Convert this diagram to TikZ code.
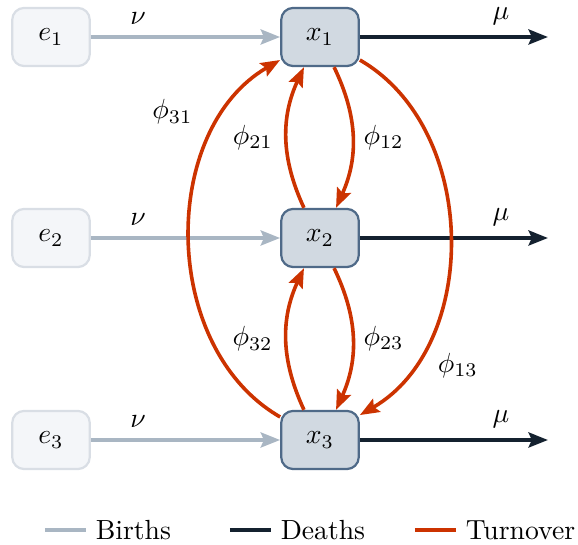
\documentclass[tikz,border=0pt]{standalone}
\usetikzlibrary{arrows.meta}
\definecolor{birthcol}{HTML}{A9B6C3}
\definecolor{deathcol}{HTML}{14212F}
\definecolor{turncol}{HTML}{CC3300}
\definecolor{envfill}{HTML}{F4F6F9}
\definecolor{envline}{HTML}{D9DEE5}
\definecolor{popfill}{HTML}{D1D9E1}
\definecolor{popline}{HTML}{4F6A88}
\tikzset{
	envbox/.style={draw=envline, fill=envfill, line width=0.8pt, rounded corners=4.3pt, minimum width=28pt, minimum height=21pt},
	popbox/.style={draw=popline, fill=popfill, line width=0.8pt, rounded corners=4.3pt, minimum width=28pt, minimum height=21pt},
	flowtip/.style={-{Stealth[length=7pt, width=5.4pt, inset=1.2pt]}},
	births/.style={flowtip, draw=birthcol, line width=1.4pt},
	deaths/.style={flowtip, draw=deathcol, line width=1.4pt},
	turnover/.style={flowtip, draw=turncol, line width=1.3pt},
	legline/.style={line width=1.4pt},
}

\begin{document}
\begin{tikzpicture}[x=0.0127cm, y=0.0127cm]
		%%%%% START %%%%%
		\useasboundingbox (0, 0) rectangle (578, 545);
		
		\node[envbox] (e1) at (51, 508) {$e_1$};
		\node[envbox] (e2) at (51, 307) {$e_2$};
		\node[envbox] (e3) at (51, 105) {$e_3$};
		
		\node[popbox] (x1) at (320, 508) {$x_1$};
		\node[popbox] (x2) at (320, 307) {$x_2$};
		\node[popbox] (x3) at (320, 105) {$x_3$};
		
		\coordinate (d1) at (548, 508);
		\coordinate (d2) at (548, 307);
		\coordinate (d3) at (548, 105);
		
		% births and deaths
		\draw[births] (e1) -- node[pos=0.25, above=0.3pt] {$\nu$} (x1);
		\draw[births] (e2) -- node[pos=0.25, above=0.3pt] {$\nu$} (x2);
		\draw[births] (e3) -- node[pos=0.25, above=0.3pt] {$\nu$} (x3);
		\draw[deaths] (x1) -- node[pos=0.75, above=0.3pt] {$\mu$} (d1);
		\draw[deaths] (x2) -- node[pos=0.75, above=0.3pt] {$\mu$} (d2);
		\draw[deaths] (x3) -- node[pos=0.75, above=0.3pt] {$\mu$} (d3);
		
		% turnover
		\draw[turnover] (x1.-65) to[bend left=25] node[right] {$\phi_{12}$} (x2.62);
		\draw[turnover] (x2.118) to[bend left=25] node[left=1pt] {$\phi_{21}$} (x1.-118);
		\draw[turnover] (x2.-65) to[bend left=25] node[right] {$\phi_{23}$} (x3.62);
		\draw[turnover] (x3.118) to[bend left=25] node[left=1pt] {$\phi_{32}$} (x2.-118);
		\draw[turnover] (x3.150) to[bend left=60] node[pos=0.815, left=8pt] {$\phi_{31}$} (x1.210);
		\draw[turnover] (x1.-30) to[bend left=60] node[pos=0.82, right=5pt] {$\phi_{13}$} (x3.32);
		
		% legend
		\coordinate (lb) at (45, 15);
		\coordinate (ld) at (230, 15);
		\coordinate (lt) at (415, 15);
		\node[anchor=west] (tb) at (86, 15) {Births};
		\node[anchor=west] (td) at (271, 15) {Deaths};
		\node[anchor=west] (tt) at (456, 15) {Turnover};
		\draw[legline, birthcol] (lb) -- (tb.west);
		\draw[legline, deathcol] (ld) -- (td.west);
		\draw[legline, turncol] (lt) -- (tt.west);
		
		%%%%% END %%%%%
	\end{tikzpicture}
\end{document}
